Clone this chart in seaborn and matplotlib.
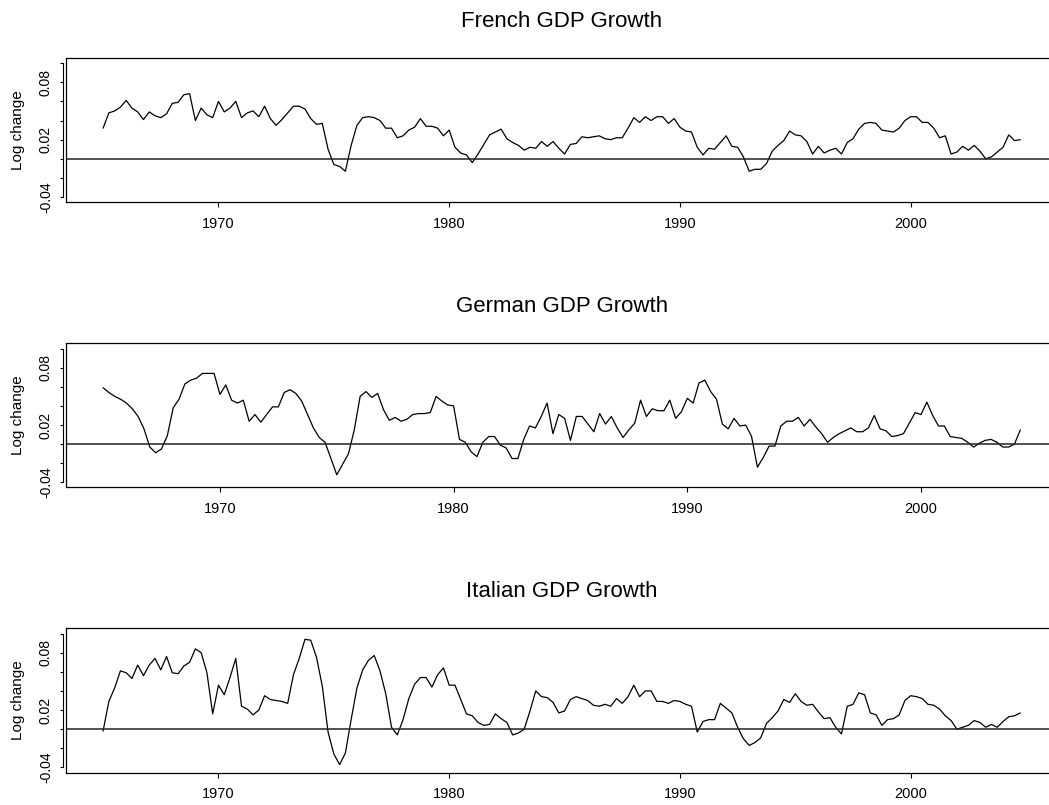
import numpy as np
import matplotlib
matplotlib.use("Agg")
import matplotlib.pyplot as plt
import seaborn as sns

# quarterly log changes, first quarter 1965
start_year = 1965.0

french = [
    0.032, 0.048, 0.050, 0.054, 0.061, 0.053, 0.049, 0.041, 0.049, 0.045,
    0.043, 0.047, 0.058, 0.059, 0.067, 0.068, 0.040, 0.053, 0.046, 0.043,
    0.060, 0.049, 0.053, 0.060, 0.043, 0.048, 0.050, 0.044, 0.055, 0.042,
    0.035, 0.041, 0.048, 0.055, 0.055, 0.052, 0.042, 0.036, 0.037, 0.010,
    -0.006, -0.008, -0.013, 0.014, 0.035, 0.043, 0.044, 0.043, 0.040, 0.032,
    0.032, 0.022, 0.024, 0.030, 0.033, 0.042, 0.034, 0.034, 0.032, 0.024,
    0.030, 0.012, 0.006, 0.004, -0.004, 0.005, 0.015, 0.025, 0.028, 0.031,
    0.021, 0.017, 0.014, 0.009,
    0.012, 0.011, 0.018, 0.013, 0.018, 0.011, 0.005, 0.015, 0.016, 0.023,
    0.022, 0.023, 0.024, 0.021, 0.020, 0.022, 0.022, 0.032, 0.043, 0.038,
    0.044, 0.040, 0.044, 0.044, 0.037, 0.042, 0.033, 0.029, 0.028, 0.012,
    0.004, 0.011, 0.010, 0.017, 0.024, 0.013, 0.012, 0.002, -0.013, -0.011,
    -0.011, -0.005, 0.008, 0.014, 0.019, 0.029, 0.025, 0.024, 0.018, 0.005,
    0.013, 0.006, 0.009, 0.011, 0.005, 0.017, 0.021, 0.031, 0.037, 0.038,
    0.037, 0.030, 0.029, 0.028, 0.032, 0.040, 0.044, 0.044, 0.038, 0.038,
    0.032, 0.022, 0.024, 0.005, 0.007, 0.013, 0.009, 0.014, 0.008, 0.000,
    0.002, 0.007, 0.012, 0.025, 0.019, 0.020,
]

german = [
    0.059, 0.054, 0.050, 0.047, 0.043, 0.037, 0.029, 0.016, -0.003, -0.009,
    -0.005, 0.009, 0.038, 0.047, 0.063, 0.067, 0.069, 0.074, 0.074, 0.074,
    0.052, 0.062, 0.046, 0.043, 0.046, 0.024, 0.031, 0.023, 0.031, 0.039,
    0.039, 0.054, 0.057, 0.053, 0.045, 0.031, 0.017, 0.007, 0.002, -0.015,
    -0.032, -0.021, -0.010, 0.015, 0.050, 0.055, 0.049, 0.053, 0.036, 0.025,
    0.028, 0.024, 0.026, 0.031, 0.032, 0.032, 0.033, 0.050, 0.045, 0.041,
    0.040, 0.005, 0.002, -0.008, -0.013, 0.002, 0.008, 0.008, -0.001, -0.004,
    -0.015, -0.015, 0.005,
    0.019, 0.017, 0.029, 0.043, 0.011, 0.031, 0.027, 0.004, 0.029, 0.029,
    0.021, 0.013, 0.032, 0.021, 0.029, 0.017, 0.007, 0.015, 0.022, 0.046,
    0.029, 0.037, 0.035, 0.035, 0.046, 0.027, 0.034, 0.048, 0.043, 0.064,
    0.067, 0.055, 0.047, 0.021, 0.016, 0.027, 0.019, 0.020, 0.008, -0.024,
    -0.014, -0.002, -0.002, 0.019, 0.024, 0.024, 0.028, 0.019, 0.026, 0.018,
    0.011, 0.002, 0.007, 0.011, 0.014, 0.017, 0.013, 0.013, 0.017, 0.030,
    0.016, 0.014, 0.008, 0.009, 0.011, 0.022, 0.033, 0.031, 0.044, 0.030,
    0.019, 0.019, 0.008, 0.007, 0.006, 0.002, -0.003, 0.001, 0.004, 0.005,
    0.002, -0.003, -0.003, 0.000, 0.015,
]

italian = [
    -0.002, 0.029, 0.043, 0.061, 0.059, 0.053, 0.067, 0.056, 0.067, 0.074,
    0.062, 0.076, 0.059, 0.058, 0.066, 0.070, 0.084, 0.080, 0.059, 0.016,
    0.046, 0.036, 0.054, 0.074, 0.024, 0.021, 0.015, 0.020, 0.035, 0.031,
    0.030, 0.029, 0.027, 0.057, 0.074, 0.094, 0.093, 0.075, 0.045, -0.003,
    -0.026, -0.037, -0.025, 0.010, 0.043, 0.062, 0.072, 0.077, 0.061, 0.037,
    0.002, -0.006, 0.010, 0.032, 0.047, 0.054, 0.054, 0.044, 0.057, 0.064,
    0.046, 0.046, 0.031, 0.016, 0.014, 0.007, 0.004, 0.005, 0.016, 0.011,
    0.007, -0.006, -0.004, 0.000, 0.019,
    0.040, 0.034, 0.033, 0.028, 0.017, 0.019, 0.031, 0.034, 0.032, 0.030,
    0.025, 0.024, 0.026, 0.024, 0.032, 0.027, 0.034, 0.046, 0.034, 0.040,
    0.040, 0.029, 0.029, 0.027, 0.030, 0.029, 0.026, 0.024, -0.003, 0.008,
    0.010, 0.010, 0.027, 0.022, 0.017, 0.002, -0.010, -0.017, -0.014, -0.009,
    0.006, 0.012, 0.019, 0.031, 0.028, 0.037, 0.029, 0.025, 0.026, 0.018,
    0.011, 0.012, 0.002, -0.005, 0.024, 0.026, 0.038, 0.036, 0.017, 0.015,
    0.004, 0.010, 0.011, 0.015, 0.030, 0.035, 0.034, 0.032, 0.026, 0.025,
    0.021, 0.014, 0.009, 0.000, 0.002, 0.004, 0.009, 0.007, 0.002, 0.005,
    0.002, 0.008, 0.013, 0.014, 0.017,
]

titles = ["French GDP Growth", "German GDP Growth", "Italian GDP Growth"]
series = [french, german, italian]
year_ticks = [1970, 1980, 1990, 2000]
y_ticks = [-0.04, -0.02, 0.0, 0.02, 0.04, 0.06, 0.08, 0.10]
y_ticklabels = ["-0.04", "", "", "0.02", "", "", "0.08", ""]

sns.set_style("ticks")
plt.rcParams["font.family"] = ["Liberation Sans", "DejaVu Sans"]
plt.rcParams.update({
    "text.color": "black",
    "axes.labelcolor": "black",
    "axes.edgecolor": "black",
    "xtick.color": "black",
    "ytick.color": "black",
})

W, H = 1049, 805
fig = plt.figure(figsize=(W / 100, H / 100), dpi=100)

box_left, box_width, box_height = 66.4, 990.6, 144.5
box_tops = [57.6, 343.0, 628.0]

for title, vals, top in zip(titles, series, box_tops):
    ax = fig.add_axes([box_left / W, 1 - (top + box_height) / H, box_width / W, box_height / H])
    years = start_year + 0.25 * np.arange(len(vals))

    sns.lineplot(x=years, y=vals, ax=ax, color="black", linewidth=0.9)
    ax.axhline(0, color="#222222", linewidth=1.1)

    span = years[-1] - years[0]
    ax.set_xlim(years[0] - 0.04 * span, years[-1] + 0.04 * span)
    ax.set_ylim(-0.0453, 0.1058)

    # S-style detached y axis, box drawn round the plot region
    for side in ["top", "right", "bottom"]:
        ax.spines[side].set_linewidth(0.9)
    ax.spines["left"].set_position(("outward", 2.2))
    ax.spines["left"].set_bounds(-0.04, 0.10)
    ax.spines["left"].set_linewidth(0.8)
    ax.plot([0, 0], [0, 1], transform=ax.transAxes, color="black", lw=0.9, clip_on=False)

    ax.set_xticks(year_ticks)
    ax.set_xticklabels([str(y) for y in year_ticks])
    ax.set_yticks(y_ticks)
    ax.set_yticklabels(y_ticklabels, rotation=90, va="center")
    ax.tick_params(axis="x", length=3.5, width=0.8, pad=7, labelsize=10.5, colors="black")
    ax.tick_params(axis="y", length=2.5, width=0.8, pad=5, labelsize=10, colors="black")

    ax.set_xlabel("")
    ax.set_ylabel("Log change", fontsize=11, color="black")
    ax.yaxis.set_label_coords(-0.0414, 0.5)
    ax.set_title(title, fontsize=16, pad=22, color="black")

fig.savefig("out.png", dpi=100)
